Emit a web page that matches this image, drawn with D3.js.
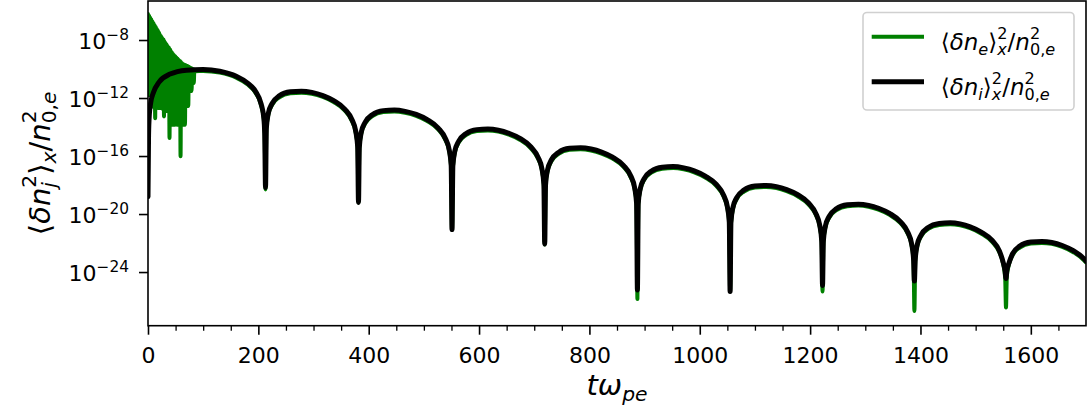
<!DOCTYPE html>
<html>
<head>
<meta charset="utf-8">
<script src="https://cdnjs.cloudflare.com/ajax/libs/d3/7.8.5/d3.min.js"></script>
<style>
  body { margin: 0; background: #fff; }
  svg { display: block; font-family: "DejaVu Sans", sans-serif; }
</style>
</head>
<body>
<svg width="1092" height="417"></svg>
<script>
// DATA (t*omega_pe, log10 of the value)

// ion density fluctuation <dn_i>^2_x / n0e^2
var ionPts = [
  [0,-18.8],[1,-14.6],[2.5,-13.1],[5,-12.3],[10,-11.6],[20,-10.9],[40,-10.35],[70,-10.08],[100,-10.03],[130,-10.15],[160,-10.5],[180,-10.95],[195,-11.55],[205,-12.4],[210,-13.4],[211.5,-14.4],[213,-18.17],
  [214.5,-14.08],[218,-13.06],[225,-12.37],[238,-11.85],[258,-11.57],[278,-11.53],[297,-11.61],[317,-11.83],[336.5,-12.18],[356.5,-12.76],[369.5,-13.48],[376.5,-14.29],[380,-15.35],[381.5,-19.2],
  [383,-15.38],[386.5,-14.36],[393.5,-13.67],[406.5,-13.15],[426.5,-12.87],[446.5,-12.83],[466,-12.92],[486,-13.13],[506,-13.49],[526,-14.07],[539,-14.79],[546,-15.59],[549.5,-16.66],[551,-21.07],
  [552.5,-16.69],[556,-15.67],[563,-14.98],[576,-14.46],[596,-14.18],[616,-14.14],[635,-14.22],[654,-14.43],[674,-14.78],[694,-15.37],[707,-16.09],[714,-16.89],[717.5,-17.96],[719,-22.07],
  [720.5,-17.98],[724,-16.97],[731,-16.27],[744,-15.75],[764,-15.47],[784,-15.43],[803,-15.52],[822,-15.73],[842,-16.08],[862,-16.66],[875,-17.38],[882,-18.19],[885.5,-19.26],[887,-25.24],
  [888.5,-19.28],[892,-18.27],[899,-17.57],[912,-17.05],[932,-16.77],[952,-16.73],[971,-16.82],[990,-17.02],[1010,-17.38],[1030,-17.96],[1043,-18.68],[1050,-19.49],[1053.5,-20.55],[1055,-25.34],
  [1056.5,-20.58],[1060,-19.56],[1067,-18.87],[1080,-18.35],[1100,-18.07],[1120,-18.03],[1139,-18.11],[1157.5,-18.32],[1177.5,-18.67],[1197.5,-19.25],[1210.5,-19.97],[1217.5,-20.78],[1221,-21.85],[1222.5,-24.93],
  [1224,-21.87],[1227.5,-20.86],[1234.5,-20.16],[1247.5,-19.64],[1267.5,-19.36],[1287.5,-19.32],[1306,-19.4],[1324,-19.6],[1344,-19.96],[1364,-20.54],[1377,-21.26],[1384,-22.06],[1387.5,-23.13],[1389,-24.62],
  [1390.5,-23.15],[1394,-22.14],[1401,-21.45],[1414,-20.93],[1434,-20.65],[1454,-20.6],[1472,-20.68],[1490,-20.88],[1510,-21.24],[1530,-21.82],[1543,-22.54],[1550,-23.35],[1553.5,-23.95],[1555,-24.45],
  [1556.5,-23.9],[1560,-23.42],[1567,-22.73],[1580,-22.21],[1600,-21.93],[1620,-21.89],[1638,-21.96],[1657,-22.17],[1677,-22.53],[1697,-23.11],[1700,-23.24]
];

// electron density fluctuation: fast burst at early time (peak / trough pairs)
var elecBurst = [
  [0,-6.2],[1,-11.8],[2,-6.33],[3,-11.8],[4,-6.46],[5,-11.8],[6,-6.59],[7,-11.8],[8,-6.72],[9,-12.6],
  [10,-6.85],[11,-12.6],[12,-6.98],[13,-13.4],[14,-7.11],[15,-12.6],[16,-7.24],[17,-12.6],[18,-7.37],[19,-12.69],
  [20,-7.5],[21,-12.69],[22,-7.63],[23,-12.69],[24,-7.74],[25,-12.69],[26,-7.86],[27,-12.8],[28,-7.97],[29,-13.26],
  [30,-8.08],[31,-12.9],[32,-8.2],[33,-12.9],[34,-8.31],[35,-12.9],[36,-8.43],[37,-12.9],[38,-8.54],[39,-14.76],
  [40,-8.65],[41,-13.84],[42,-8.77],[43,-13.84],[44,-8.88],[45,-13.84],[46,-8.99],[47,-13.84],[48,-9.07],[49,-13.84],
  [50,-9.14],[51,-13.84],[52,-9.22],[53,-13.84],[54,-9.29],[55,-13.84],[56,-9.37],[57,-13.84],[58,-9.45],[59,-16.02],
  [60,-9.52],[61,-13.84],[62,-9.6],[63,-13.84],[64,-9.66],[65,-13.84],[66,-9.7],[67,-13.84],[68,-9.74],[69,-12.55],
  [70,-9.78],[71,-12.55],[72,-9.81],[73,-12.55],[74,-9.85],[75,-11.52],[76,-9.89],[77,-11.52],[78,-9.93],[79,-11.52],
  [80,-9.97],[81,-10.97],[82,-10.01],[83,-10.97],[84,-10.05]
];

// electron density fluctuation after the burst
var elecPts = [
  [86,-10.15],[100,-10.13],[130,-10.25],[160,-10.6],[180,-11.05],[195,-11.65],[205,-12.5],[210,-13.5],[211.5,-14.5],[213,-18.3],
  [214.5,-14.18],[218,-13.16],[225,-12.47],[238,-11.95],[258,-11.67],[278,-11.63],[297,-11.71],[317,-11.93],[336.5,-12.28],[356.5,-12.86],[369.5,-13.58],[376.5,-14.39],[380,-15.45],[381.5,-19.2],
  [383,-15.48],[386.5,-14.46],[393.5,-13.77],[406.5,-13.25],[426.5,-12.97],[446.5,-12.93],[466,-13.02],[486,-13.23],[506,-13.59],[526,-14.17],[539,-14.89],[546,-15.69],[549.5,-16.76],[551,-21.1],
  [552.5,-16.79],[556,-15.77],[563,-15.08],[576,-14.56],[596,-14.28],[616,-14.24],[635,-14.32],[654,-14.53],[674,-14.88],[694,-15.47],[707,-16.19],[714,-16.99],[717.5,-18.06],[719,-22.1],
  [720.5,-18.08],[724,-17.07],[731,-16.37],[744,-15.85],[764,-15.57],[784,-15.53],[803,-15.62],[822,-15.83],[842,-16.18],[862,-16.76],[875,-17.48],[882,-18.29],[885.5,-19.36],[887,-25.86],
  [888.5,-19.38],[892,-18.37],[899,-17.67],[912,-17.15],[932,-16.87],[952,-16.83],[971,-16.92],[990,-17.12],[1010,-17.48],[1030,-18.06],[1043,-18.78],[1050,-19.59],[1053.5,-20.65],[1055,-25.34],
  [1056.5,-20.68],[1060,-19.66],[1067,-18.97],[1080,-18.45],[1100,-18.17],[1120,-18.13],[1139,-18.21],[1157.5,-18.42],[1177.5,-18.77],[1197.5,-19.35],[1210.5,-20.07],[1217.5,-20.88],[1221,-21.95],[1222.5,-25.34],
  [1224,-21.97],[1227.5,-20.96],[1234.5,-20.26],[1247.5,-19.74],[1267.5,-19.46],[1287.5,-19.42],[1306,-19.5],[1324,-19.7],[1344,-20.06],[1364,-20.64],[1377,-21.36],[1384,-22.16],[1387.5,-23.23],[1389,-26.69],
  [1390.5,-23.25],[1394,-22.24],[1401,-21.55],[1414,-21.03],[1434,-20.75],[1454,-20.7],[1472,-20.78],[1490,-20.98],[1510,-21.34],[1530,-21.92],[1543,-22.64],[1550,-23.45],[1553.5,-24.4],[1555,-26.45],
  [1556.5,-24.3],[1560,-23.52],[1567,-22.83],[1580,-22.31],[1600,-22.03],[1620,-21.99],[1638,-22.06],[1657,-22.27],[1677,-22.63],[1697,-23.21],[1700,-23.34]
];

var xMajor = [0, 200, 400, 600, 800, 1000, 1200, 1400, 1600];
var xMinor = d3.range(50, 1700, 50).filter(function(v) { return v % 200 !== 0; });
var yExpTicks = [-8, -12, -16, -20, -24];

// LAYOUT //
var canvas = d3.select("svg");
var plotLeft = 148, plotTop = 1, plotRight = 1086, plotBottom = 325.7;

var x = d3.scaleLinear().domain([0, 1700]).range([plotLeft, plotRight]);
var y = d3.scaleLog().domain([Math.pow(10, -27.7), Math.pow(10, -5.31)]).range([plotBottom, plotTop]);

// mathtext-like text built from tspans
function mathText(sel, F, parts) {
  var cur = 0;
  parts.forEach(function(p) {
    var size = p.lvl ? 0.7 * F : F;
    var target = p.lvl === "sup" ? -0.5 * F : (p.lvl === "sub" ? 0.2 * F : 0);
    sel.append("tspan")
      .attr("dy", target - cur)
      .attr("dx", (p.dx || 0) * F)
      .style("font-size", size + "px")
      .style("font-style", p.it ? "italic" : "normal")
      .text(p.s);
    cur = target;
  });
}

canvas.append("clipPath").attr("id", "plotClip")
  .append("rect")
  .attr("x", plotLeft).attr("y", plotTop)
  .attr("width", plotRight - plotLeft).attr("height", plotBottom - plotTop);

var line = d3.line()
  .x(function(d) { return x(d[0]); })
  .y(function(d) { return y(Math.pow(10, d[1])); })
  .curve(d3.curveMonotoneX);

var plot = canvas.append("g").attr("clip-path", "url(#plotClip)");

// electrons (green) under ions (black)
plot.append("path")
  .attr("d", line(elecBurst.concat(elecPts)))
  .attr("fill", "none")
  .attr("stroke", "#008000")
  .attr("stroke-width", 4)
  .attr("stroke-linejoin", "round")
  .attr("stroke-linecap", "round");

plot.append("path")
  .attr("d", line(ionPts))
  .attr("fill", "none")
  .attr("stroke", "#000")
  .attr("stroke-width", 5)
  .attr("stroke-linejoin", "round")
  .attr("stroke-linecap", "round");

// AXES //
var xAxis = canvas.append("g")
  .attr("transform", "translate(0," + plotBottom + ")")
  .call(d3.axisBottom(x).tickValues(xMajor).tickSize(9).tickFormat(d3.format("d")));
xAxis.select(".domain").remove();
xAxis.selectAll("line").attr("stroke-width", 1.6);
xAxis.selectAll("text")
  .attr("y", 37.5).attr("dy", null)
  .style("font-size", "22px")
  .style("font-family", "DejaVu Sans");

var xMinorAxis = canvas.append("g")
  .attr("transform", "translate(0," + plotBottom + ")")
  .call(d3.axisBottom(x).tickValues(xMinor).tickSize(5).tickFormat(""));
xMinorAxis.select(".domain").remove();
xMinorAxis.selectAll("line").attr("stroke-width", 1.3);

var yAxis = canvas.append("g")
  .attr("transform", "translate(" + plotLeft + ",0)")
  .call(d3.axisLeft(y).tickValues(yExpTicks.map(function(e) { return Math.pow(10, e); })).tickSize(9).tickFormat(""));
yAxis.select(".domain").remove();
yAxis.selectAll("line").attr("stroke-width", 1.6);

yExpTicks.forEach(function(e) {
  var t = canvas.append("text")
    .attr("x", 129)
    .attr("y", y(Math.pow(10, e)) + 9)
    .attr("text-anchor", "end")
    .style("font-size", "22px");
  t.append("tspan").text("10");
  t.append("tspan").attr("dy", -9).style("font-size", "15.4px").text("\u2212" + Math.abs(e));
});

// frame
canvas.append("rect")
  .attr("x", plotLeft).attr("y", plotTop)
  .attr("width", plotRight - plotLeft).attr("height", plotBottom - plotTop)
  .attr("fill", "none")
  .attr("stroke", "#000")
  .attr("stroke-width", 1.6);

// axis labels
var xlab = canvas.append("text")
  .attr("x", (plotLeft + plotRight) / 2)
  .attr("y", 395)
  .attr("text-anchor", "middle");
mathText(xlab, 29, [{s: "t\u03c9", it: 1}, {s: "pe", it: 1, lvl: "sub"}]);

var ylab = canvas.append("text")
  .attr("transform", "translate(50," + ((plotTop + plotBottom) / 2) + ") rotate(-90)")
  .attr("text-anchor", "middle");
mathText(ylab, 29, [
  {s: "\u27e8"}, {s: "\u03b4n", it: 1}, {s: "2", lvl: "sup"}, {s: "j", it: 1, lvl: "sub", dx: -0.445},
  {s: "\u27e9", dx: 0.25}, {s: "x", it: 1, lvl: "sub"}, {s: "/"}, {s: "n", it: 1},
  {s: "2", lvl: "sup"}, {s: "0,", lvl: "sub", dx: -0.445}, {s: "e", it: 1, lvl: "sub"}
]);

// LEGEND //
var legend = canvas.append("g");
legend.append("rect")
  .attr("x", 863).attr("y", 12.5)
  .attr("width", 211).attr("height", 97.5)
  .attr("rx", 4)
  .attr("fill", "#fff").attr("fill-opacity", 0.8)
  .attr("stroke", "#d0d0d0").attr("stroke-width", 1.6);

var legendItems = [
  {color: "#008000", width: 4, sub: "e"},
  {color: "#000", width: 5, sub: "i"}
];
legendItems.forEach(function(item, i) {
  var ly = 36.7 + i * 45;
  legend.append("line")
    .attr("x1", 871.7).attr("x2", 924)
    .attr("y1", ly).attr("y2", ly)
    .attr("stroke", item.color)
    .attr("stroke-width", item.width);
  var lt = legend.append("text").attr("x", 940.7).attr("y", ly + 13.3);
  mathText(lt, 23, [
    {s: "\u27e8"}, {s: "\u03b4n", it: 1}, {s: item.sub, it: 1, lvl: "sub"}, {s: "\u27e9"},
    {s: "2", lvl: "sup"}, {s: "x", it: 1, lvl: "sub", dx: -0.445}, {s: "/", dx: 0.035}, {s: "n", it: 1},
    {s: "2", lvl: "sup"}, {s: "0,", lvl: "sub", dx: -0.445}, {s: "e", it: 1, lvl: "sub"}
  ]);
});
</script>
</body>
</html>
